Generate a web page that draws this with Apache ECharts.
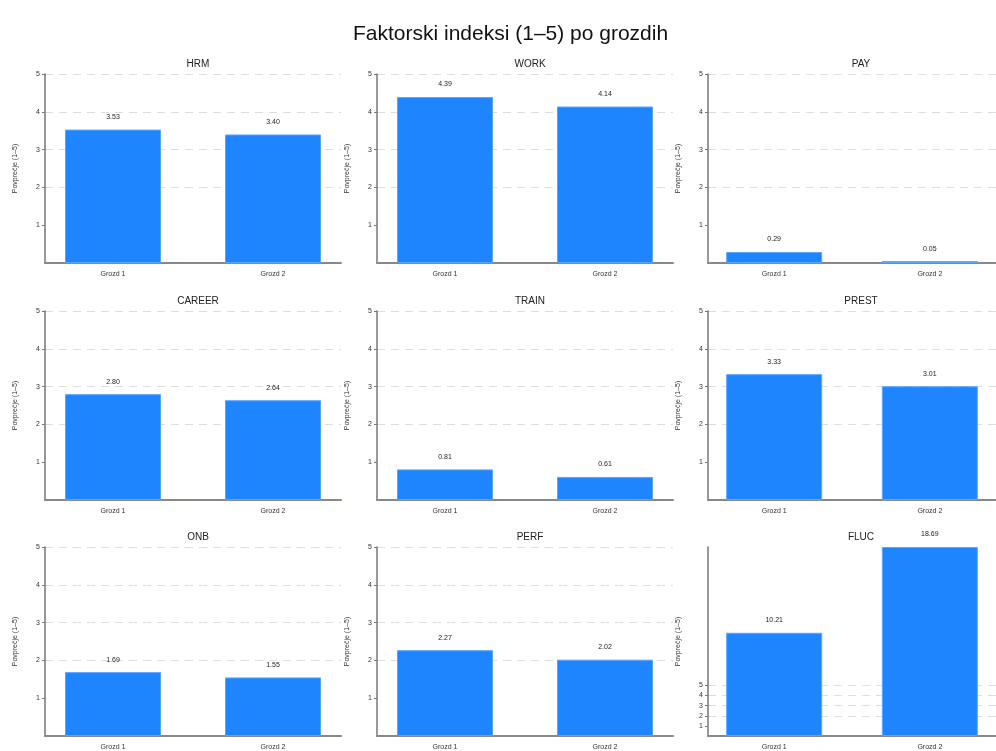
<!DOCTYPE html>
<html>

<head>
    <meta charset="utf-8">
    <title>Faktorski indeksi po grozdih</title>
    <style>
        html, body { margin: 0; padding: 0; background: #fff; }
        #chart-container { width: 996px; height: 751px; }
    </style>
    <script src="https://cdn.jsdelivr.net/npm/echarts@6/dist/echarts.min.js"></script>
</head>

<body>
    <div id="chart-container"></div>
    <script>
        // podatki
        const factors = ['HRM', 'WORK', 'PAY', 'CAREER', 'TRAIN', 'PREST', 'ONB', 'PERF', 'FLUC'];
        const groups = ['Grozd 1', 'Grozd 2'];
        const grozd1 = [3.53, 4.39, 0.29, 2.80, 0.81, 3.33, 1.69, 2.27, 10.21];
        const grozd2 = [3.40, 4.14, 0.05, 2.64, 0.61, 3.01, 1.55, 2.02, 18.69];
        const yTicks = [1, 2, 3, 4, 5];
        const yName = 'Povprečje (1–5)';

        var dom = document.getElementById('chart-container');
        var myChart = echarts.init(dom, null, { renderer: 'canvas' });

        const colLeft = [45, 377, 708];
        const rowTop = [74, 311, 547];
        const plotW = 296, plotH = 189;
        const barColor = '#1f85ff';
        const font = 'Liberation Sans, Arial, sans-serif';

        const titles = [{
            text: 'Faktorski indeksi (1–5) po grozdih',
            left: 348,
            top: 19,
            textStyle: { fontFamily: font, fontSize: 21, fontWeight: 'normal', color: '#111' }
        }];
        const grids = [], xAxes = [], yAxes = [], series = [];

        factors.forEach(function (name, i) {
            const col = i % 3, row = Math.floor(i / 3);
            const left = colLeft[col], top = rowTop[row];
            const yMax = Math.max(5, grozd1[i], grozd2[i]);

            titles.push({
                text: name,
                left: left + plotW / 2,
                top: top - 20,
                textAlign: 'center',
                textStyle: { fontFamily: font, fontSize: 10, fontWeight: 'normal', color: '#222' }
            });

            grids.push({ left: left, top: top, width: plotW, height: plotH });

            xAxes.push({
                gridIndex: i,
                type: 'value',
                min: -0.425,
                max: 1.425,
                splitLine: { show: false },
                axisLine: { show: true, onZero: false, lineStyle: { color: '#888', width: 2 } },
                axisTick: { show: false },
                axisLabel: {
                    customValues: [0, 1],
                    margin: 8,
                    fontSize: 7,
                    color: '#333',
                    fontFamily: font,
                    formatter: function (v) {
                        return v === 0 ? groups[0] : (v === 1 ? groups[1] : '');
                    }
                }
            });

            // siva črtkana mreža samo pri 1–5
            const gridColors = [];
            for (let k = 0; k <= Math.ceil(yMax) + 1; k++) {
                gridColors.push(k >= 1 && k <= 5 ? '#dedede' : 'rgba(0,0,0,0)');
            }

            yAxes.push({
                gridIndex: i,
                type: 'value',
                min: 0,
                max: yMax,
                interval: 1,
                name: yName,
                nameLocation: 'middle',
                nameRotate: 90,
                nameGap: 26,
                nameTextStyle: { fontSize: 7, color: '#333', fontFamily: font },
                axisLine: { show: true, onZero: false, lineStyle: { color: '#777', width: 1.5 } },
                axisTick: { show: true, customValues: yTicks, length: 3, lineStyle: { color: '#777' } },
                axisLabel: {
                    customValues: yTicks,
                    margin: 5,
                    fontSize: 7,
                    color: '#333',
                    fontFamily: font,
                    formatter: function (v) {
                        return (v >= 1 && v <= 5) ? String(v) : '';
                    }
                },
                splitLine: {
                    show: true,
                    lineStyle: { color: gridColors, type: [8, 6], width: 1 }
                }
            });

            series.push({
                type: 'bar',
                xAxisIndex: i,
                yAxisIndex: i,
                barWidth: 96,
                data: [[0, grozd1[i]], [1, grozd2[i]]],
                itemStyle: { color: barColor, borderColor: '#5aa6ff', borderWidth: 1 },
                label: {
                    show: true,
                    position: 'top',
                    distance: 9,
                    fontSize: 7,
                    color: '#222',
                    fontFamily: font,
                    formatter: function (p) { return p.value[1].toFixed(2); }
                }
            });
        });

        var option = {
            backgroundColor: '#fff',
            animation: false,
            title: titles,
            grid: grids,
            xAxis: xAxes,
            yAxis: yAxes,
            series: series
        };
        myChart.setOption(option);

        window.addEventListener('resize', myChart.resize);
    </script>
</body>

</html>
